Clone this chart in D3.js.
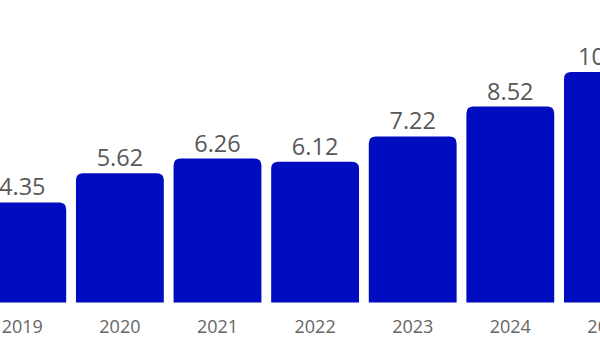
<!DOCTYPE html>
<html>
<head>
<meta charset="utf-8">
<script src="https://cdn.jsdelivr.net/npm/d3@7/dist/d3.min.js"></script>
<style>
  html, body { margin: 0; padding: 0; background: #fff; }
  svg { display: block; }
</style>
</head>
<body>
<svg id="chart" width="600" height="345"></svg>
<script>
// Yearly values shown above each bar
const years = ["2019", "2020", "2021", "2022", "2023", "2024", "2025"];
const values = [4.35, 5.62, 6.26, 6.12, 7.22, 8.52, 10.02];
const valueLabels = ["4.35", "5.62", "6.26", "6.12", "7.22", "8.52", "10.02"];

const svg = d3.select("#chart");
const baseY = 302.5;

const x = d3.scaleBand()
  .domain(years)
  .range([-31.4, 661.6])
  .paddingInner(0.1)
  .paddingOuter(0.1);

const y = d3.scaleLinear()
  .domain([0, 12])
  .range([baseY, baseY - 12 * 23.0]);

// bar with rounded top corners only
function barPath(x0, w, yTop, yBot, r) {
  return `M${x0},${yBot}V${yTop + r}Q${x0},${yTop} ${x0 + r},${yTop}` +
         `H${x0 + w - r}Q${x0 + w},${yTop} ${x0 + w},${yTop + r}V${yBot}Z`;
}

svg.append("g")
  .selectAll("path")
  .data(years)
  .join("path")
  .attr("d", (d, i) => barPath(x(d), x.bandwidth(), y(values[i]), y(0), 7))
  .attr("fill", "#000cbf");

svg.append("g")
  .selectAll("text")
  .data(years)
  .join("text")
  .attr("x", d => x(d) + x.bandwidth() / 2)
  .attr("y", (d, i) => y(values[i]) - 7)
  .attr("text-anchor", "middle")
  .attr("font-family", "'Open Sans', sans-serif")
  .attr("font-size", 23.5)
  .attr("fill", "#585858")
  .text((d, i) => valueLabels[i]);

const xAxis = d3.axisBottom(x).tickSize(0).tickPadding(0);
const gx = svg.append("g")
  .attr("transform", `translate(0,${baseY})`)
  .call(xAxis);
gx.select(".domain").remove();
gx.selectAll("text")
  .attr("dy", null)
  .attr("y", 30.5)
  .attr("font-family", "'Open Sans', sans-serif")
  .attr("font-size", 18)
  .attr("fill", "#666");
</script>
</body>
</html>
